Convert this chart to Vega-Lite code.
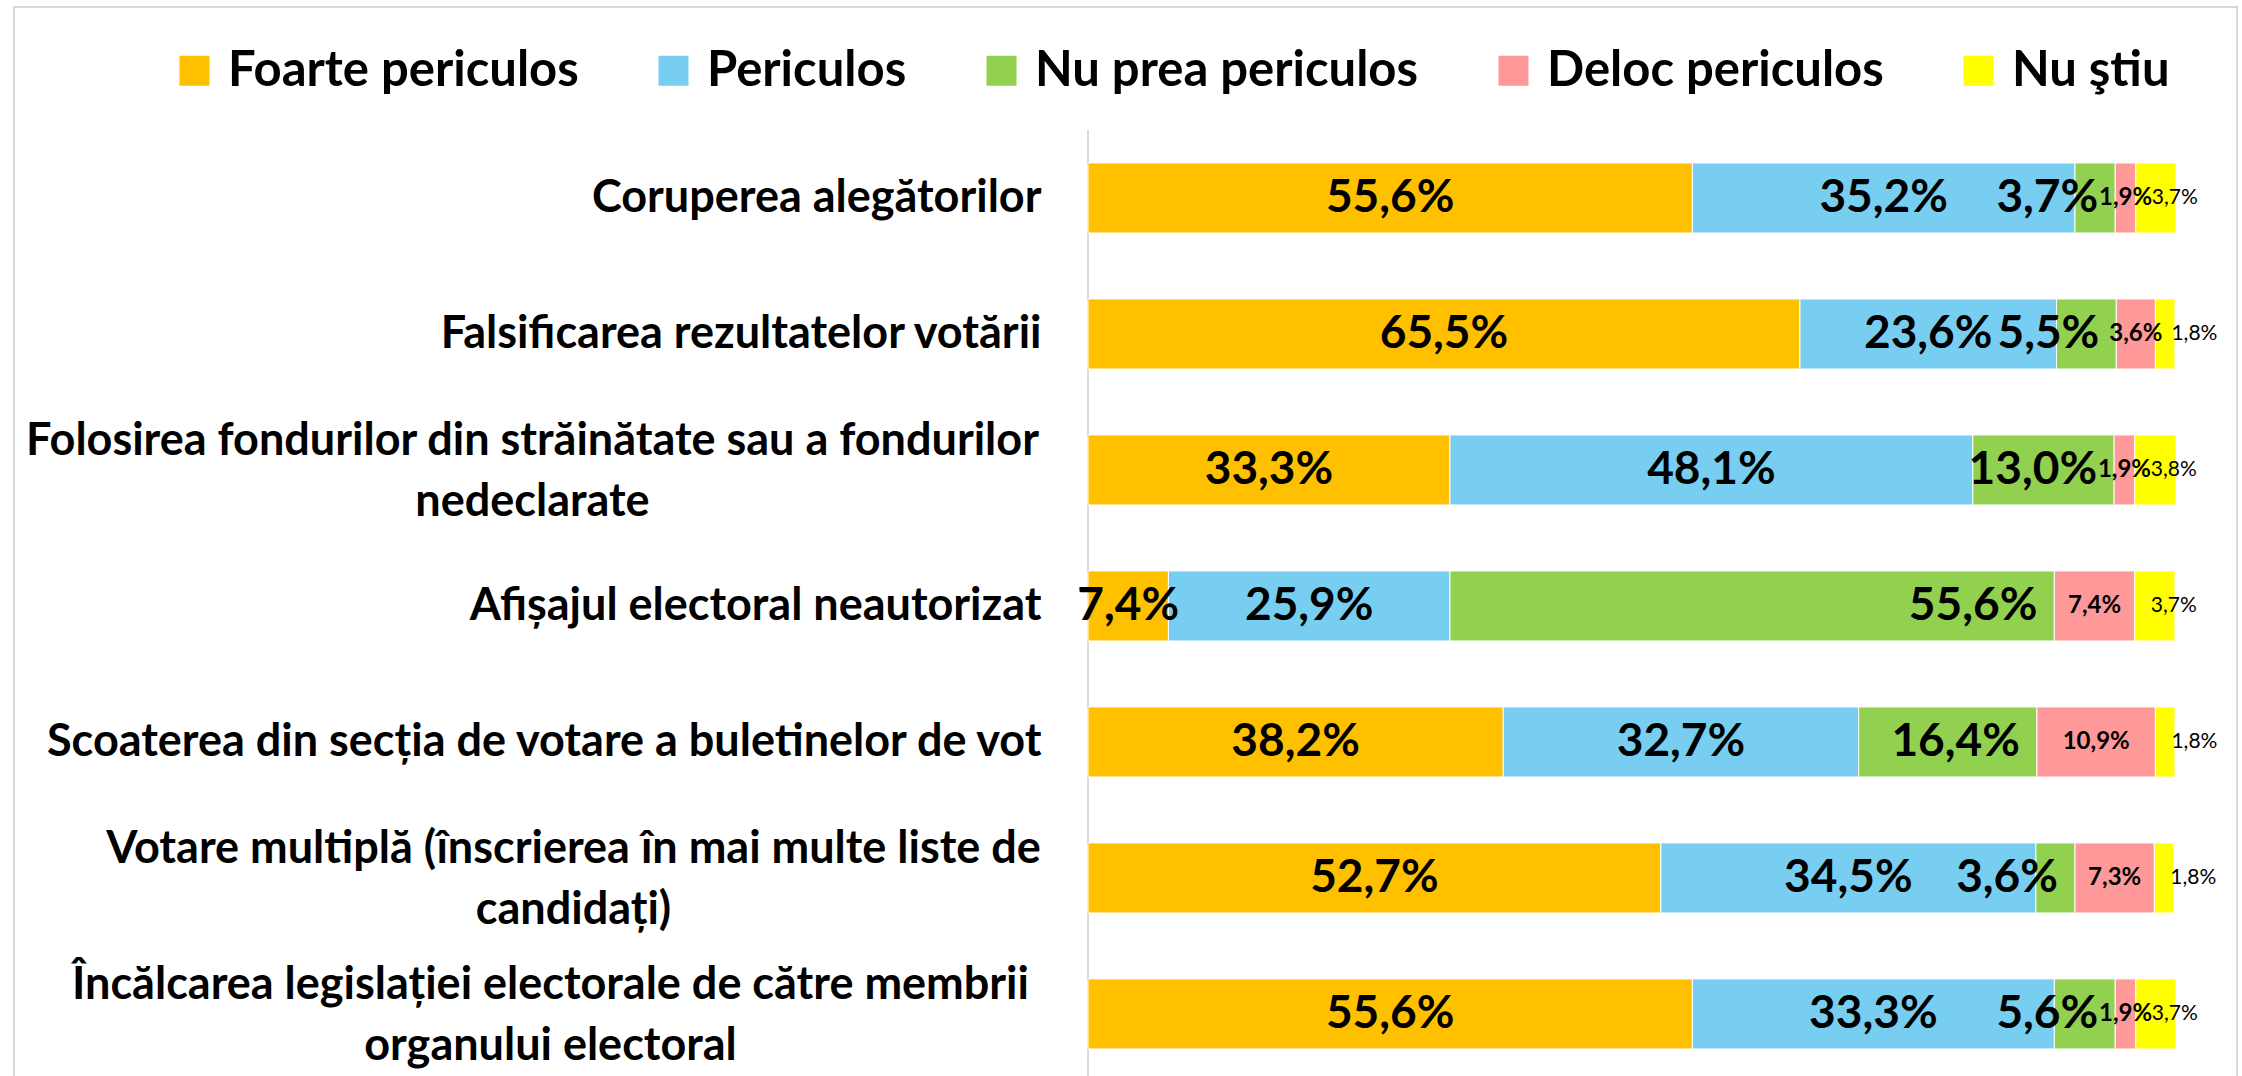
{
  "$schema": "https://vega.github.io/schema/vega-lite/v6.json",
  "width": 2223,
  "height": 1073,
  "autosize": {"type": "none"},
  "padding": {"left": 14, "top": 7, "right": 5, "bottom": 0},
  "background": "white",
  "config": {
    "font": "Lato",
    "view": {"stroke": "#D9D9D9", "strokeWidth": 2},
    "locale": {"number": {"decimal": ",", "thousands": ".", "grouping": [3], "currency": ["", ""]}}
  },
  "data": {
    "values": [
      {"cat": "Coruperea alegătorilor", "resp": "Foarte periculos", "ord": 1, "value": 0.556},
      {"cat": "Coruperea alegătorilor", "resp": "Periculos", "ord": 2, "value": 0.352},
      {"cat": "Coruperea alegătorilor", "resp": "Nu prea periculos", "ord": 3, "value": 0.037},
      {"cat": "Coruperea alegătorilor", "resp": "Deloc periculos", "ord": 4, "value": 0.019},
      {"cat": "Coruperea alegătorilor", "resp": "Nu ştiu", "ord": 5, "value": 0.037},
      {"cat": "Falsificarea rezultatelor votării", "resp": "Foarte periculos", "ord": 1, "value": 0.655},
      {"cat": "Falsificarea rezultatelor votării", "resp": "Periculos", "ord": 2, "value": 0.236},
      {"cat": "Falsificarea rezultatelor votării", "resp": "Nu prea periculos", "ord": 3, "value": 0.055},
      {"cat": "Falsificarea rezultatelor votării", "resp": "Deloc periculos", "ord": 4, "value": 0.036},
      {"cat": "Falsificarea rezultatelor votării", "resp": "Nu ştiu", "ord": 5, "value": 0.018},
      {"cat": "Folosirea fondurilor din străinătate sau a fondurilor nedeclarate", "resp": "Foarte periculos", "ord": 1, "value": 0.333},
      {"cat": "Folosirea fondurilor din străinătate sau a fondurilor nedeclarate", "resp": "Periculos", "ord": 2, "value": 0.481},
      {"cat": "Folosirea fondurilor din străinătate sau a fondurilor nedeclarate", "resp": "Nu prea periculos", "ord": 3, "value": 0.130},
      {"cat": "Folosirea fondurilor din străinătate sau a fondurilor nedeclarate", "resp": "Deloc periculos", "ord": 4, "value": 0.019},
      {"cat": "Folosirea fondurilor din străinătate sau a fondurilor nedeclarate", "resp": "Nu ştiu", "ord": 5, "value": 0.038},
      {"cat": "Afișajul electoral neautorizat", "resp": "Foarte periculos", "ord": 1, "value": 0.074},
      {"cat": "Afișajul electoral neautorizat", "resp": "Periculos", "ord": 2, "value": 0.259},
      {"cat": "Afișajul electoral neautorizat", "resp": "Nu prea periculos", "ord": 3, "value": 0.556},
      {"cat": "Afișajul electoral neautorizat", "resp": "Deloc periculos", "ord": 4, "value": 0.074},
      {"cat": "Afișajul electoral neautorizat", "resp": "Nu ştiu", "ord": 5, "value": 0.037},
      {"cat": "Scoaterea din secția de votare a buletinelor de vot ", "resp": "Foarte periculos", "ord": 1, "value": 0.382},
      {"cat": "Scoaterea din secția de votare a buletinelor de vot ", "resp": "Periculos", "ord": 2, "value": 0.327},
      {"cat": "Scoaterea din secția de votare a buletinelor de vot ", "resp": "Nu prea periculos", "ord": 3, "value": 0.164},
      {"cat": "Scoaterea din secția de votare a buletinelor de vot ", "resp": "Deloc periculos", "ord": 4, "value": 0.109},
      {"cat": "Scoaterea din secția de votare a buletinelor de vot ", "resp": "Nu ştiu", "ord": 5, "value": 0.018},
      {"cat": "Votare multiplă (înscrierea în mai multe liste de candidați)", "resp": "Foarte periculos", "ord": 1, "value": 0.527},
      {"cat": "Votare multiplă (înscrierea în mai multe liste de candidați)", "resp": "Periculos", "ord": 2, "value": 0.345},
      {"cat": "Votare multiplă (înscrierea în mai multe liste de candidați)", "resp": "Nu prea periculos", "ord": 3, "value": 0.036},
      {"cat": "Votare multiplă (înscrierea în mai multe liste de candidați)", "resp": "Deloc periculos", "ord": 4, "value": 0.073},
      {"cat": "Votare multiplă (înscrierea în mai multe liste de candidați)", "resp": "Nu ştiu", "ord": 5, "value": 0.018},
      {"cat": "Încălcarea legislației electorale de către membrii organului electoral", "resp": "Foarte periculos", "ord": 1, "value": 0.556},
      {"cat": "Încălcarea legislației electorale de către membrii organului electoral", "resp": "Periculos", "ord": 2, "value": 0.333},
      {"cat": "Încălcarea legislației electorale de către membrii organului electoral", "resp": "Nu prea periculos", "ord": 3, "value": 0.056},
      {"cat": "Încălcarea legislației electorale de către membrii organului electoral", "resp": "Deloc periculos", "ord": 4, "value": 0.019},
      {"cat": "Încălcarea legislației electorale de către membrii organului electoral", "resp": "Nu ştiu", "ord": 5, "value": 0.037}
    ]
  },
  "encoding": {
    "y": {
      "field": "cat",
      "type": "nominal",
      "sort": null,
      "scale": {"paddingInner": 0.485, "paddingOuter": 0.6875, "align": 0.834},
      "axis": {
        "title": null,
        "domain": false,
        "ticks": false,
        "grid": false,
        "offset": -1074,
        "labelFont": "Lato",
        "labelFontSize": 45,
        "labelFontWeight": "bold",
        "labelColor": "#000000",
        "labelLimit": 1400,
        "labelOverlap": false,
        "labelBaseline": "middle",
        "labelLineHeight": 61,
        "labelExpr": "datum.value == 'Folosirea fondurilor din străinătate sau a fondurilor nedeclarate' ? ['Folosirea fondurilor din străinătate sau a fondurilor', 'nedeclarate'] : datum.value == 'Votare multiplă (înscrierea în mai multe liste de candidați)' ? ['Votare multiplă (înscrierea în mai multe liste de', 'candidați)'] : datum.value == 'Încălcarea legislației electorale de către membrii organului electoral' ? ['Încălcarea legislației electorale de către membrii', 'organului electoral'] : datum.value",
        "labelAlign": {
          "condition": {"test": "datum.value == 'Folosirea fondurilor din străinătate sau a fondurilor nedeclarate' || datum.value == 'Votare multiplă (înscrierea în mai multe liste de candidați)' || datum.value == 'Încălcarea legislației electorale de către membrii organului electoral'", "value": "center"},
          "value": "right"
        },
        "labelOffset": {
          "condition": {"test": "datum.value == 'Folosirea fondurilor din străinătate sau a fondurilor nedeclarate' || datum.value == 'Votare multiplă (înscrierea în mai multe liste de candidați)' || datum.value == 'Încălcarea legislației electorale de către membrii organului electoral'", "value": -29},
          "value": 0
        },
        "labelPadding": {
          "condition": [
            {"test": "datum.value == 'Folosirea fondurilor din străinătate sau a fondurilor nedeclarate'", "value": 556},
            {"test": "datum.value == 'Votare multiplă (înscrierea în mai multe liste de candidați)'", "value": 515},
            {"test": "datum.value == 'Încălcarea legislației electorale de către membrii organului electoral'", "value": 538}
          ],
          "value": 47
        }
      }
    },
    "order": {"field": "ord", "type": "quantitative"}
  },
  "layer": [
    {
      "mark": {"type": "tick", "orient": "vertical", "color": "#D9D9D9", "thickness": 2, "size": 136},
      "encoding": {
        "x": {"datum": 0, "type": "quantitative", "scale": {"domain": [-0.98804, 1.05704], "nice": false, "zero": false}, "axis": null}
      }
    },
    {
      "mark": {"type": "bar", "stroke": "#FFFFFF", "strokeWidth": 1},
      "encoding": {
        "x": {"field": "value", "type": "quantitative", "stack": "zero", "axis": null},
        "color": {
          "field": "resp",
          "type": "nominal",
          "scale": {
            "domain": ["Foarte periculos", "Periculos", "Nu prea periculos", "Deloc periculos", "Nu ştiu"],
            "range": ["#FFC000", "#78CEF0", "#92D050", "#FF9999", "#FFFF00"]
          },
          "legend": {
            "title": null,
            "orient": "none",
            "legendX": 156,
            "legendY": 39,
            "direction": "horizontal",
            "columns": 5,
            "columnPadding": 70,
            "symbolType": "square",
            "symbolSize": 900,
            "symbolStrokeWidth": 0,
            "labelFont": "Lato",
            "labelFontSize": 49,
            "labelFontWeight": "bold",
            "labelColor": "#000000",
            "labelOffset": 9,
            "labelLimit": 800
          }
        }
      }
    },
    {
      "mark": {"type": "text", "align": "center", "baseline": "middle", "fontWeight": "bold", "color": "#000000", "font": "Lato"},
      "encoding": {
        "x": {"field": "value", "type": "quantitative", "stack": "zero", "bandPosition": 0.5, "axis": null},
        "detail": {"field": "resp"},
        "text": {
          "field": "value",
          "type": "quantitative",
          "format": ".1%",
          "condition": {"test": "datum.resp == 'Nu prea periculos' || datum.resp == 'Nu ştiu'", "value": ""}
        },
        "size": {"condition": {"test": "datum.resp == 'Deloc periculos'", "value": 24}, "value": 46}
      }
    },
    {
      "mark": {"type": "text", "align": "right", "baseline": "middle", "fontWeight": "bold", "color": "#000000", "font": "Lato", "dx": -17, "fontSize": 46},
      "encoding": {
        "x": {"field": "value", "type": "quantitative", "stack": "zero", "bandPosition": 1, "axis": null},
        "detail": {"field": "resp"},
        "text": {
          "field": "value",
          "type": "quantitative",
          "format": ".1%",
          "condition": {"test": "datum.resp != 'Nu prea periculos'", "value": ""}
        }
      }
    },
    {
      "mark": {"type": "text", "align": "left", "baseline": "middle", "fontWeight": "normal", "color": "#000000", "font": "Lato", "dx": 16, "fontSize": 21},
      "encoding": {
        "x": {"field": "value", "type": "quantitative", "stack": "zero", "bandPosition": 0, "axis": null},
        "detail": {"field": "resp"},
        "text": {
          "field": "value",
          "type": "quantitative",
          "format": ".1%",
          "condition": {"test": "datum.resp != 'Nu ştiu'", "value": ""}
        }
      }
    }
  ]
}
